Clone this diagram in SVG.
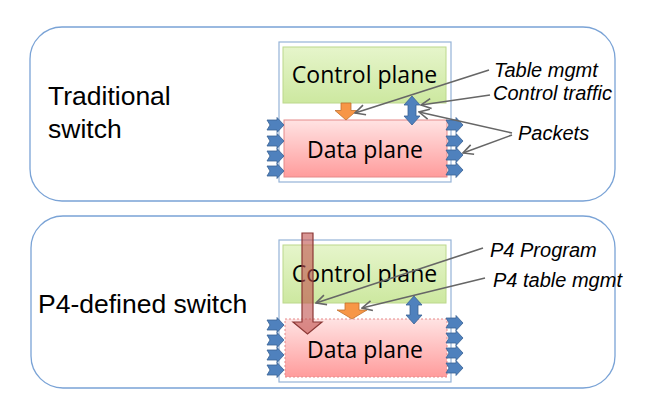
<svg xmlns="http://www.w3.org/2000/svg" width="658" height="403" viewBox="0 0 658 403">
  <defs>
    <linearGradient id="gCtrl" x1="0" y1="0" x2="0" y2="1">
      <stop offset="0" stop-color="#e6f5cb"/>
      <stop offset="1" stop-color="#cde8a0"/>
    </linearGradient>
    <linearGradient id="gData" x1="0" y1="0" x2="0" y2="1">
      <stop offset="0" stop-color="#ffe3e3"/>
      <stop offset="1" stop-color="#ff9c9c"/>
    </linearGradient>
    <marker id="openHead" viewBox="0 0 12 12" refX="11" refY="6" markerWidth="12" markerHeight="12" markerUnits="userSpaceOnUse" orient="auto">
      <path d="M1,1 L11,6 L1,11" fill="none" stroke="#666" stroke-width="1.6"/>
    </marker>
    <!-- port arrow pointing right, origin at its tail centre -->
    <path id="port" d="M0,-5 L10,-5 L10,-7.5 L17,0 L10,7.5 L10,5 L0,5 L3,0 Z"/>
  </defs>
  <style>
    .panel { fill: #ffffff; stroke: #7aa3d6; stroke-width: 1.3; }
    .frame { fill: #ffffff; stroke: #95b3d7; stroke-width: 1.2; }
    .ctrl { fill: url(#gCtrl); stroke: #bcd88c; stroke-width: 1; }
    .data { fill: url(#gData); stroke: #e58a8a; stroke-width: 1; }
    .dashed { stroke-dasharray: 2 2; }
    .port { fill: #4f81bd; stroke: #3a6294; stroke-width: 0.8; }
    .tbl { fill: #f79646; stroke: #c0712f; stroke-width: 0.8; }
    .ctl { fill: #4f81bd; stroke: #3a6294; stroke-width: 0.8; }
    .prog { fill: rgba(192, 80, 77, 0.6); stroke: #8c3836; stroke-width: 1.2; }
    .box { font-family: "Open Sans", "Liberation Sans", sans-serif; font-size: 23px; fill: #000; text-anchor: middle; }
    .title { font-family: "Liberation Sans", Arial, sans-serif; font-size: 26.5px; fill: #000; }
    .note { font-family: "Liberation Sans", Arial, sans-serif; font-style: italic; font-size: 20px; fill: #000; }
    .lead { fill: none; stroke: #666; stroke-width: 1.6; marker-end: url(#openHead); }
  </style>

  <!-- Traditional switch -->
  <g id="traditional">
    <rect class="panel" x="30" y="27" width="585" height="174" rx="32" ry="32"/>
    <text class="title" x="48" y="105">Traditional</text>
    <text class="title" x="48" y="138">switch</text>
    <rect class="frame" x="279" y="42" width="172" height="140"/>
    <g id="trad-control">
      <rect class="ctrl" x="283" y="47" width="163" height="56"/>
      <text class="box" x="364.5" y="83">Control plane</text>
    </g>
    <g id="trad-data">
      <rect class="data" x="284" y="120" width="163" height="57"/>
      <text class="box" x="365" y="158">Data plane</text>
    </g>
    <g id="trad-ports">
      <use href="#port" class="port" x="267" y="125"/>
      <use href="#port" class="port" x="267" y="141"/>
      <use href="#port" class="port" x="267" y="156"/>
      <use href="#port" class="port" x="267" y="171"/>
      <use href="#port" class="port" x="446" y="125"/>
      <use href="#port" class="port" x="446" y="141"/>
      <use href="#port" class="port" x="446" y="155"/>
      <use href="#port" class="port" x="446" y="170"/>
    </g>
    <polygon id="trad-table" class="tbl" points="341,103 351,103 351,110.5 357,110.5 346,120 335,110.5 341,110.5"/>
    <polygon id="trad-traffic" class="ctl" points="412,96 420,105 416,105 416,116 420,116 412,125 404,116 408,116 408,105 404,105"/>
  </g>

  <!-- P4-defined switch -->
  <g id="p4">
    <rect class="panel" x="31" y="216" width="584" height="172" rx="32" ry="32"/>
    <text class="title" x="38" y="313">P4-defined switch</text>
    <rect class="frame" x="279" y="240" width="172" height="142"/>
    <g id="p4-control">
      <rect class="ctrl" x="283" y="245" width="163" height="58"/>
      <text class="box" x="364.5" y="282">Control plane</text>
    </g>
    <g id="p4-data">
      <rect class="data dashed" x="285" y="319" width="162" height="58"/>
      <text class="box" x="365" y="358">Data plane</text>
    </g>
    <g id="p4-ports">
      <use href="#port" class="port" x="267" y="325"/>
      <use href="#port" class="port" x="267" y="340"/>
      <use href="#port" class="port" x="267" y="355"/>
      <use href="#port" class="port" x="267" y="370"/>
      <use href="#port" class="port" x="446" y="323"/>
      <use href="#port" class="port" x="446" y="338"/>
      <use href="#port" class="port" x="446" y="353"/>
      <use href="#port" class="port" x="446" y="368"/>
    </g>
    <polygon id="p4-table" class="tbl" points="345,303 359,303 359,310 367,310 352,319 337,310 345,310"/>
    <polygon id="p4-traffic" class="ctl" points="414,296 422,305 418,305 418,315 422,315 414,324 406,315 410,315 410,305 406,305"/>
    <polygon id="p4-program" class="prog" points="302,233 313,233 313,322 322,322 307.5,334 293,322 302,322"/>
  </g>

  <!-- callout labels -->
  <g id="labels">
    <text class="note" x="494" y="77">Table mgmt</text>
    <text class="note" x="493" y="100">Control traffic</text>
    <text class="note" x="518" y="140">Packets</text>
    <text class="note" x="490" y="257">P4 Program</text>
    <text class="note" x="493" y="287">P4 table mgmt</text>
  </g>

  <!-- leader lines -->
  <g id="connectors">
    <line class="lead" x1="489" y1="70" x2="355" y2="113"/>
    <line class="lead" x1="490" y1="95" x2="421" y2="105"/>
    <line class="lead" x1="512" y1="133" x2="419" y2="112"/>
    <line class="lead" x1="512" y1="135" x2="463" y2="153"/>
    <line class="lead" x1="483" y1="248" x2="316" y2="303"/>
    <line class="lead" x1="485" y1="278" x2="362" y2="308"/>
  </g>
</svg>
